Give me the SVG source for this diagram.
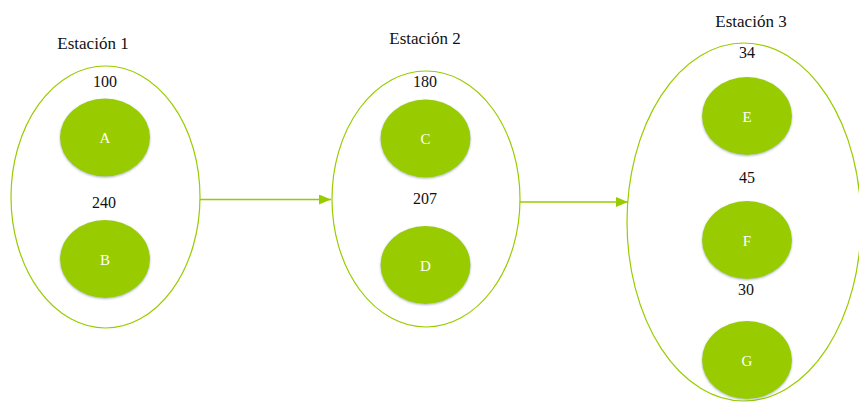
<svg xmlns="http://www.w3.org/2000/svg" width="859" height="402" viewBox="0 0 859 402" font-family="Liberation Serif, Times New Roman, serif">
  <defs>
    <marker id="arrow" viewBox="0 0 12 10" refX="12" refY="5" markerWidth="12" markerHeight="10" markerUnits="userSpaceOnUse" orient="auto">
      <path d="M0,0 L12,5 L0,10 Z" fill="#99CC00"/>
    </marker>
    <filter id="soft" x="-20%" y="-20%" width="140%" height="140%">
      <feGaussianBlur in="SourceAlpha" stdDeviation="1.2"/>
      <feOffset dx="0" dy="0.5" result="b"/>
      <feFlood flood-color="#6b7a8a" flood-opacity="0.55"/>
      <feComposite in2="b" operator="in"/>
      <feMerge><feMergeNode/><feMergeNode in="SourceGraphic"/></feMerge>
    </filter>
  </defs>
  <style>
    .station { fill: #ffffff; stroke: #99CC00; stroke-width: 1.2; }
    .task { fill: #99CC00; filter: url(#soft); }
    .title, .time, .name { text-anchor: middle; font-family: 'Liberation Serif', 'Times New Roman', serif; }
    .title { font-size: 17px; fill: #111111; }
    .time { font-size: 16px; fill: #111111; }
    .name { font-size: 15px; fill: #ffffff; }
    .link { stroke: #99CC00; stroke-width: 1.5; fill: none; }
  </style>
  <rect width="859" height="402" fill="#ffffff"/>

  <!-- Station 1 -->
  <g id="station1">
    <ellipse class="station" cx="105.5" cy="197" rx="94.5" ry="131"/>
    <text class="title" x="93" y="49">Estación 1</text>
    <text class="time" x="105" y="87">100</text>
    <text class="time" x="104" y="208">240</text>
  </g>
  <g id="taskA">
    <ellipse class="task" cx="105" cy="137.5" rx="45" ry="39"/>
    <text class="name" x="105" y="143">A</text>
  </g>
  <g id="taskB">
    <ellipse class="task" cx="105" cy="259" rx="45" ry="39"/>
    <text class="name" x="105" y="264.5">B</text>
  </g>

  <!-- Station 2 -->
  <g id="station2">
    <ellipse class="station" cx="426" cy="199" rx="94" ry="128"/>
    <text class="title" x="425" y="44">Estación 2</text>
    <text class="time" x="425" y="87">180</text>
    <text class="time" x="425" y="204">207</text>
  </g>
  <g id="taskC">
    <ellipse class="task" cx="425.5" cy="138.5" rx="45" ry="39"/>
    <text class="name" x="425.5" y="144">C</text>
  </g>
  <g id="taskD">
    <ellipse class="task" cx="425.5" cy="265" rx="45" ry="39"/>
    <text class="name" x="425.5" y="270.5">D</text>
  </g>

  <!-- Station 3 -->
  <g id="station3">
    <ellipse class="station" cx="744" cy="222" rx="117" ry="179"/>
    <text class="title" x="751" y="27">Estación 3</text>
    <text class="time" x="747" y="58">34</text>
    <text class="time" x="747" y="183">45</text>
    <text class="time" x="746" y="295">30</text>
  </g>
  <g id="taskE">
    <ellipse class="task" cx="747" cy="116" rx="45" ry="39"/>
    <text class="name" x="747" y="121.5">E</text>
  </g>
  <g id="taskF">
    <ellipse class="task" cx="747" cy="240" rx="45" ry="39"/>
    <text class="name" x="747" y="245.5">F</text>
  </g>
  <g id="taskG">
    <ellipse class="task" cx="747" cy="360" rx="45" ry="39"/>
    <text class="name" x="747" y="365.5">G</text>
  </g>

  <!-- Connectors between stations -->
  <g id="connectors">
    <line class="link" x1="200" y1="199.5" x2="331" y2="199.5" marker-end="url(#arrow)"/>
    <line class="link" x1="520" y1="202" x2="628" y2="202" marker-end="url(#arrow)"/>
  </g>
</svg>
